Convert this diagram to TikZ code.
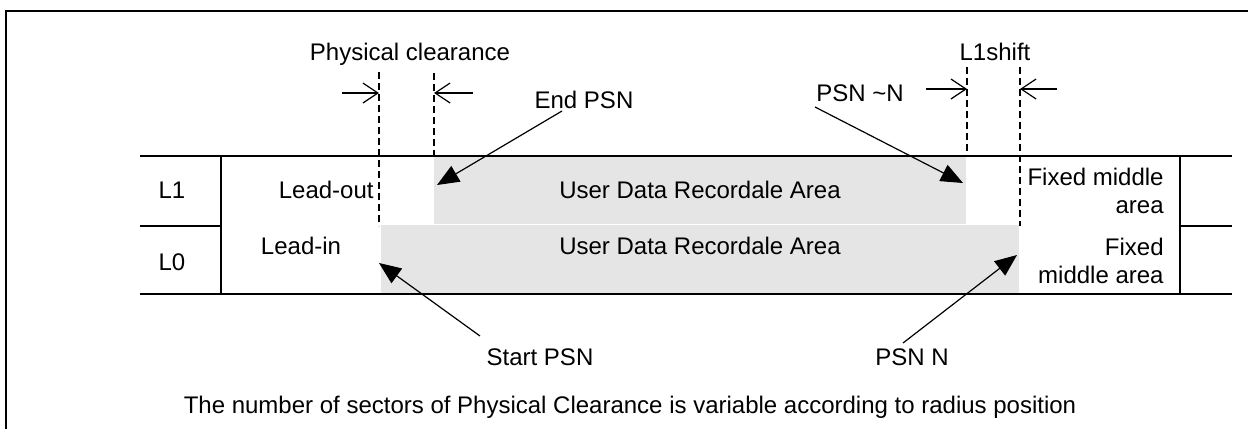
\documentclass[tikz,border=0pt]{standalone}
\usepackage{fontspec}
\setmainfont{Liberation Sans}
\usetikzlibrary{arrows.meta,positioning}
\definecolor{areagray}{RGB}{229,229,229}
\tikzset{node distance=1cm, auto,
  lbl/.style={font=\fontsize{12pt}{14pt}\selectfont, inner sep=0pt, anchor=base},
  rule/.style={line width=0.9pt},
  guide/.style={line width=0.7pt, dash pattern=on 3.5pt off 2pt},
  dim/.style={line width=0.6pt, -{Straight Barb[length=7.5pt,width=10pt,line width=0.6pt]}},
  ptr/.style={line width=0.6pt, -{Triangle[length=11pt,width=9pt]}}}

\begin{document}
\begin{tikzpicture}[x=0.5pt,y=-0.5pt]

             \useasboundingbox (0,0) rectangle (1248,429);
             \draw[line width=1pt] (6,429) -- (6,11) -- (1248,11);

             \fill[areagray] (434,156) rectangle (966,223.5);
             \fill[areagray] (381,225) rectangle (1019,294);

             \draw[rule] (140,156) -- (1232,156);
             \draw[rule] (140,294) -- (1232,294);
             \draw[rule] (140,226) -- (221,226);
             \draw[rule] (1180,226) -- (1232,226);
             \draw[rule] (221,156) -- (221,294);
             \draw[rule] (1180,156) -- (1180,294);

             \coordinate (pcl) at (379,93);
             \coordinate (pcr) at (434,93);
             \coordinate (lsl) at (967,89);
             \coordinate (lsr) at (1020,89);

             \draw[guide] (379,72) -- (379,226);
             \draw[guide] (434,73) -- (434,156);
             \draw[guide] (967,67) -- (967,156);
             \draw[guide] (1020,67) -- (1020,226);

             \draw[dim] (342,93) -- (pcl);
             \draw[dim] (473,93) -- (pcr);
             \draw[dim] (926,89) -- (lsl);
             \draw[dim] (1057,89) -- (lsr);

             \node[lbl] (phys) at (410,60) {Physical clearance};
             \node[lbl] (shift) at (995,60) {L1shift};
             \node[lbl] (endpsn) at (584,108) {End PSN};
             \node[lbl] (psnn1) at (860,101) {PSN \textasciitilde N};

             \node[lbl] (L1) at (172,198) {L1};
             \node[lbl] (L0) at (172,270) {L0};
             \node[lbl, anchor=base east] (leadout) at (374,198) {Lead-out};
             \node[lbl] (leadin) at (301,254) {Lead-in};
             \node[lbl] (ud1) at (700,198) {User Data Recordale Area};
             \node[lbl] (ud0) at (700,254) {User Data Recordale Area};
             \node[lbl, align=right, anchor=base east] (fix1) at (1164,213.5) {Fixed middle\\area};
             \node[lbl, align=right, anchor=base east] (fix0) at (1164,283.5) {Fixed\\middle area};

             \node[lbl] (startpsn) at (540,365) {Start PSN};
             \node[lbl] (psnn) at (912,365) {PSN N};
             \node[lbl] (note) at (630,413) {The number of sectors of Physical Clearance is variable according to radius position};

             \coordinate (endtip) at (437,185);
             \coordinate (psnn1tip) at (963,183);
             \coordinate (starttip) at (379,263);
             \coordinate (psnntip) at (1017,255);

             \draw[ptr] (562,111) -- (endtip);
             \draw[ptr] (815,107) -- (psnn1tip);
             \draw[ptr] (480,336) -- (starttip);
             \draw[ptr] (903,343) -- (psnntip);

\end{tikzpicture}
\end{document}
